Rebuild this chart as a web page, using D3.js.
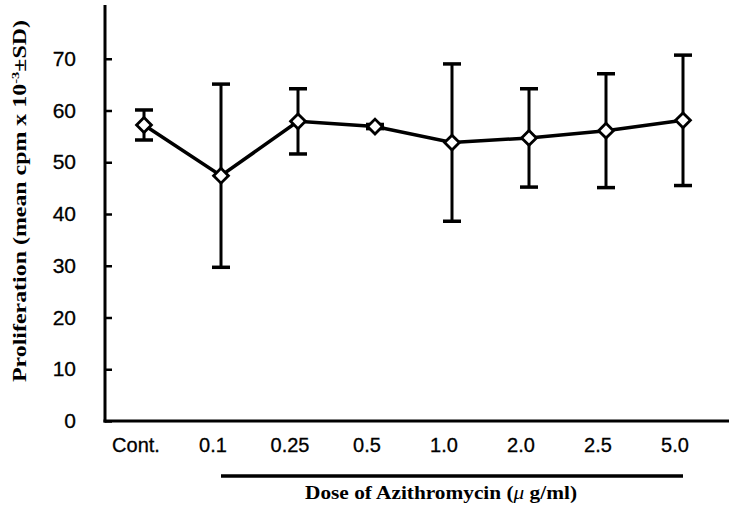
<!DOCTYPE html>
<html>
<head>
<meta charset="utf-8">
<script src="https://cdn.jsdelivr.net/npm/d3@7"></script>
<style>
  body { margin: 0; background: #fff; }
  svg { display: block; }
</style>
</head>
<body>
<svg id="chart" width="729" height="510"></svg>
<script>
const categories = ['Cont.', '0.1', '0.25', '0.5', '1.0', '2.0', '2.5', '5.0'];
const means = [57.2, 47.4, 57.9, 56.9, 53.8, 54.7, 56.1, 58.1];
const sds = [2.9, 17.7, 6.3, 0.4, 15.2, 9.5, 11.0, 12.6];
const yTicks = [0, 10, 20, 30, 40, 50, 60, 70];

const data = categories.map((c, i) => ({ cat: c, mean: means[i], sd: sds[i] }));

const svg = d3.select('#chart');

const x = d3.scalePoint()
	.domain(categories)
	.range([144, 683]);

const y = d3.scaleLinear()
	.domain([0, 80])
	.range([421, 7]);

// Y axis, ticks point inward
const yAxis = svg.append('g')
	.attr('transform', 'translate(105,0)')
	.call(d3.axisLeft(y).tickValues(yTicks).tickSize(-7).tickPadding(29).tickSizeOuter(0));
yAxis.select('.domain').remove();
yAxis.selectAll('.tick line').attr('stroke', '#000').attr('stroke-width', 2.5);
yAxis.selectAll('.tick text')
	.attr('font-family', '"Liberation Sans", Arial, sans-serif')
	.attr('font-size', 21)
	.attr('fill', '#000')
	.attr('stroke', '#000')
	.attr('stroke-width', 0.3);

svg.append('line')
	.attr('x1', 105).attr('x2', 105)
	.attr('y1', 5).attr('y2', y(0) + 1.5)
	.attr('stroke', '#000').attr('stroke-width', 3);

// x baseline and labels
svg.append('line')
	.attr('x1', 103.5).attr('x2', 729)
	.attr('y1', y(0)).attr('y2', y(0))
	.attr('stroke', '#000').attr('stroke-width', 3);

svg.append('g')
	.selectAll('text')
	.data(categories)
	.join('text')
	.attr('x', (d) => x(d) - 8)
	.attr('y', 452)
	.attr('text-anchor', 'middle')
	.attr('font-family', '"Liberation Sans", Arial, sans-serif')
	.attr('font-size', 20)
	.attr('stroke', '#000')
	.attr('stroke-width', 0.3)
	.text((d) => d);

// error bars
const bars = svg.append('g');
bars.selectAll('line.err')
	.data(data)
	.join('line')
	.attr('class', 'err')
	.attr('x1', (d) => x(d.cat)).attr('x2', (d) => x(d.cat))
	.attr('y1', (d) => y(d.mean + d.sd)).attr('y2', (d) => y(d.mean - d.sd))
	.attr('stroke', '#000').attr('stroke-width', 3);

['top', 'bottom'].forEach((side) => {
	bars.selectAll('line.cap-' + side)
		.data(data)
		.join('line')
		.attr('class', 'cap-' + side)
		.attr('x1', (d) => x(d.cat) - 9).attr('x2', (d) => x(d.cat) + 9)
		.attr('y1', (d) => y(side === 'top' ? d.mean + d.sd : d.mean - d.sd))
		.attr('y2', (d) => y(side === 'top' ? d.mean + d.sd : d.mean - d.sd))
		.attr('stroke', '#000').attr('stroke-width', 3.5);
});

// connecting line
const line = d3.line()
	.x((d) => x(d.cat))
	.y((d) => y(d.mean));

svg.append('path')
	.attr('d', line(data))
	.attr('fill', 'none')
	.attr('stroke', '#000')
	.attr('stroke-width', 3.5);

// diamond markers
const diamond = d3.symbol().type(d3.symbolSquare).size(110);
svg.append('g')
	.selectAll('path')
	.data(data)
	.join('path')
	.attr('d', diamond)
	.attr('transform', (d) => `translate(${x(d.cat)},${y(d.mean)}) rotate(45)`)
	.attr('fill', '#fff')
	.attr('stroke', '#000')
	.attr('stroke-width', 2.8);

// bracket under the doses
svg.append('line')
	.attr('x1', x(categories[1])).attr('x2', x(categories[categories.length - 1]))
	.attr('y1', 476).attr('y2', 476)
	.attr('stroke', '#000').attr('stroke-width', 3.5);

// x title
const xTitle = svg.append('text')
	.attr('x', 441)
	.attr('y', 499)
	.attr('text-anchor', 'middle')
	.attr('font-family', '"Liberation Serif", "Times New Roman", serif')
	.attr('font-weight', 'bold')
	.attr('font-size', 18)
	.attr('textLength', 272)
	.attr('lengthAdjust', 'spacingAndGlyphs');
xTitle.append('tspan').text('Dose of Azithromycin (');
xTitle.append('tspan').attr('font-style', 'italic').attr('font-weight', 'normal').text('μ');
xTitle.append('tspan').text(' g/ml)');

// y title
const yTitle = svg.append('text')
	.attr('transform', 'translate(26,201) rotate(-90)')
	.attr('text-anchor', 'middle')
	.attr('font-family', '"Liberation Serif", "Times New Roman", serif')
	.attr('font-weight', 'bold')
	.attr('font-size', 18)
	.attr('textLength', 362)
	.attr('lengthAdjust', 'spacingAndGlyphs');
yTitle.append('tspan').text('Proliferation (mean cpm x 10');
yTitle.append('tspan').attr('font-size', 11).attr('dy', -7).text('-3');
yTitle.append('tspan').attr('dy', 7).text('±SD)');
</script>
</body>
</html>
